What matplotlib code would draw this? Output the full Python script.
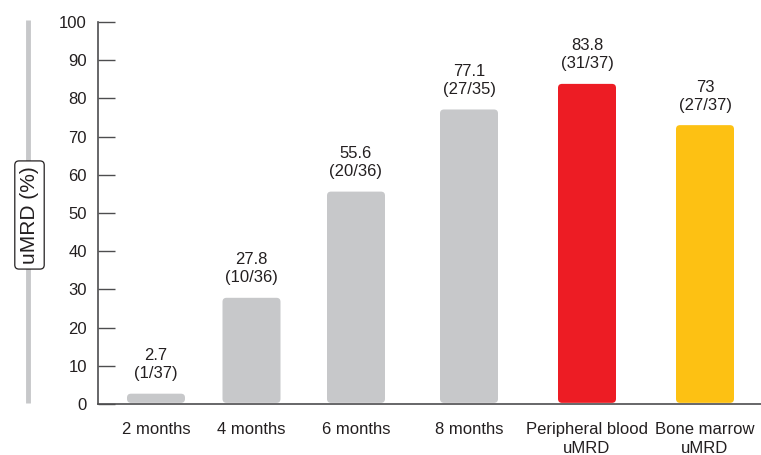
import matplotlib
matplotlib.use("Agg")
import matplotlib.pyplot as plt
from matplotlib.patches import FancyBboxPatch
from matplotlib.lines import Line2D

plt.rcParams['font.family'] = ['Liberation Sans', 'DejaVu Sans']

# uMRD rates by time point / sample type
categories = ['2 months', '4 months', '6 months', '8 months',
              'Peripheral blood\nuMRD', 'Bone marrow\nuMRD']
rates = [2.7, 27.8, 55.6, 77.1, 83.8, 73]
counts = ['(1/37)', '(10/36)', '(20/36)', '(27/35)', '(31/37)', '(27/37)']

GREY = '#c7c8ca'
colors = [GREY, GREY, GREY, GREY, '#ed1c24', '#fdc113']
TEXT = '#231f20'
AXIS = '#4d4d4f'

# bar centres in pixel units along the axis (0 = y axis)
xpos = [58, 153.5, 258, 371, 489, 607]
bar_w = 58

W, H = 761, 455
fig = plt.figure(figsize=(W / 100, H / 100), dpi=100)
ax = fig.add_axes([98 / W, (H - 404) / H, 1 - 98 / W, 382 / H])
ax.set_xlim(0, W - 98)
ax.set_ylim(0, 100)

# y units per pixel vs x units per pixel, for round corners
aspect = 100 / 382
for x, v, n, c in zip(xpos, rates, counts, colors):
    p = FancyBboxPatch((x - bar_w / 2, 0.3), bar_w, v - 0.3,
                       boxstyle='round,pad=0,rounding_size=4',
                       mutation_aspect=aspect, fc=c, ec='none', zorder=2)
    ax.add_patch(p)
    ax.annotate(f'{v:g}\n{n}', (x, v), xytext=(0, 9), textcoords='offset points',
                ha='center', va='bottom', fontsize=12, color=TEXT, linespacing=1.25)

for s in ['top', 'right']:
    ax.spines[s].set_visible(False)
for s in ['left', 'bottom']:
    ax.spines[s].set_color(AXIS)
    ax.spines[s].set_linewidth(1.2)

ax.set_yticks(range(0, 101, 10))
ax.tick_params(axis='y', direction='in', length=12, width=1, color=AXIS,
               pad=8, labelsize=12, labelcolor=TEXT)
ax.set_xticks(xpos)
ax.set_xticklabels(categories)
ax.tick_params(axis='x', length=0, pad=13, labelsize=12, labelcolor=TEXT)
for lab in ax.get_xticklabels():
    lab.set_linespacing(1.3)

# grey rule with the boxed axis title on top of it
fig.add_artist(Line2D([28 / W, 28 / W], [(H - 20) / H, (H - 403) / H],
                      color=GREY, lw=3.5, solid_capstyle='butt'))
fig.text(29.5 / W, (H - 215) / H, 'uMRD (%)', rotation=90, ha='center', va='center',
         fontsize=15, color=TEXT,
         bbox=dict(boxstyle='round,pad=0.25,rounding_size=0.2', fc='white',
                   ec=TEXT, lw=0.9))

fig.savefig('out.png', dpi=100)
